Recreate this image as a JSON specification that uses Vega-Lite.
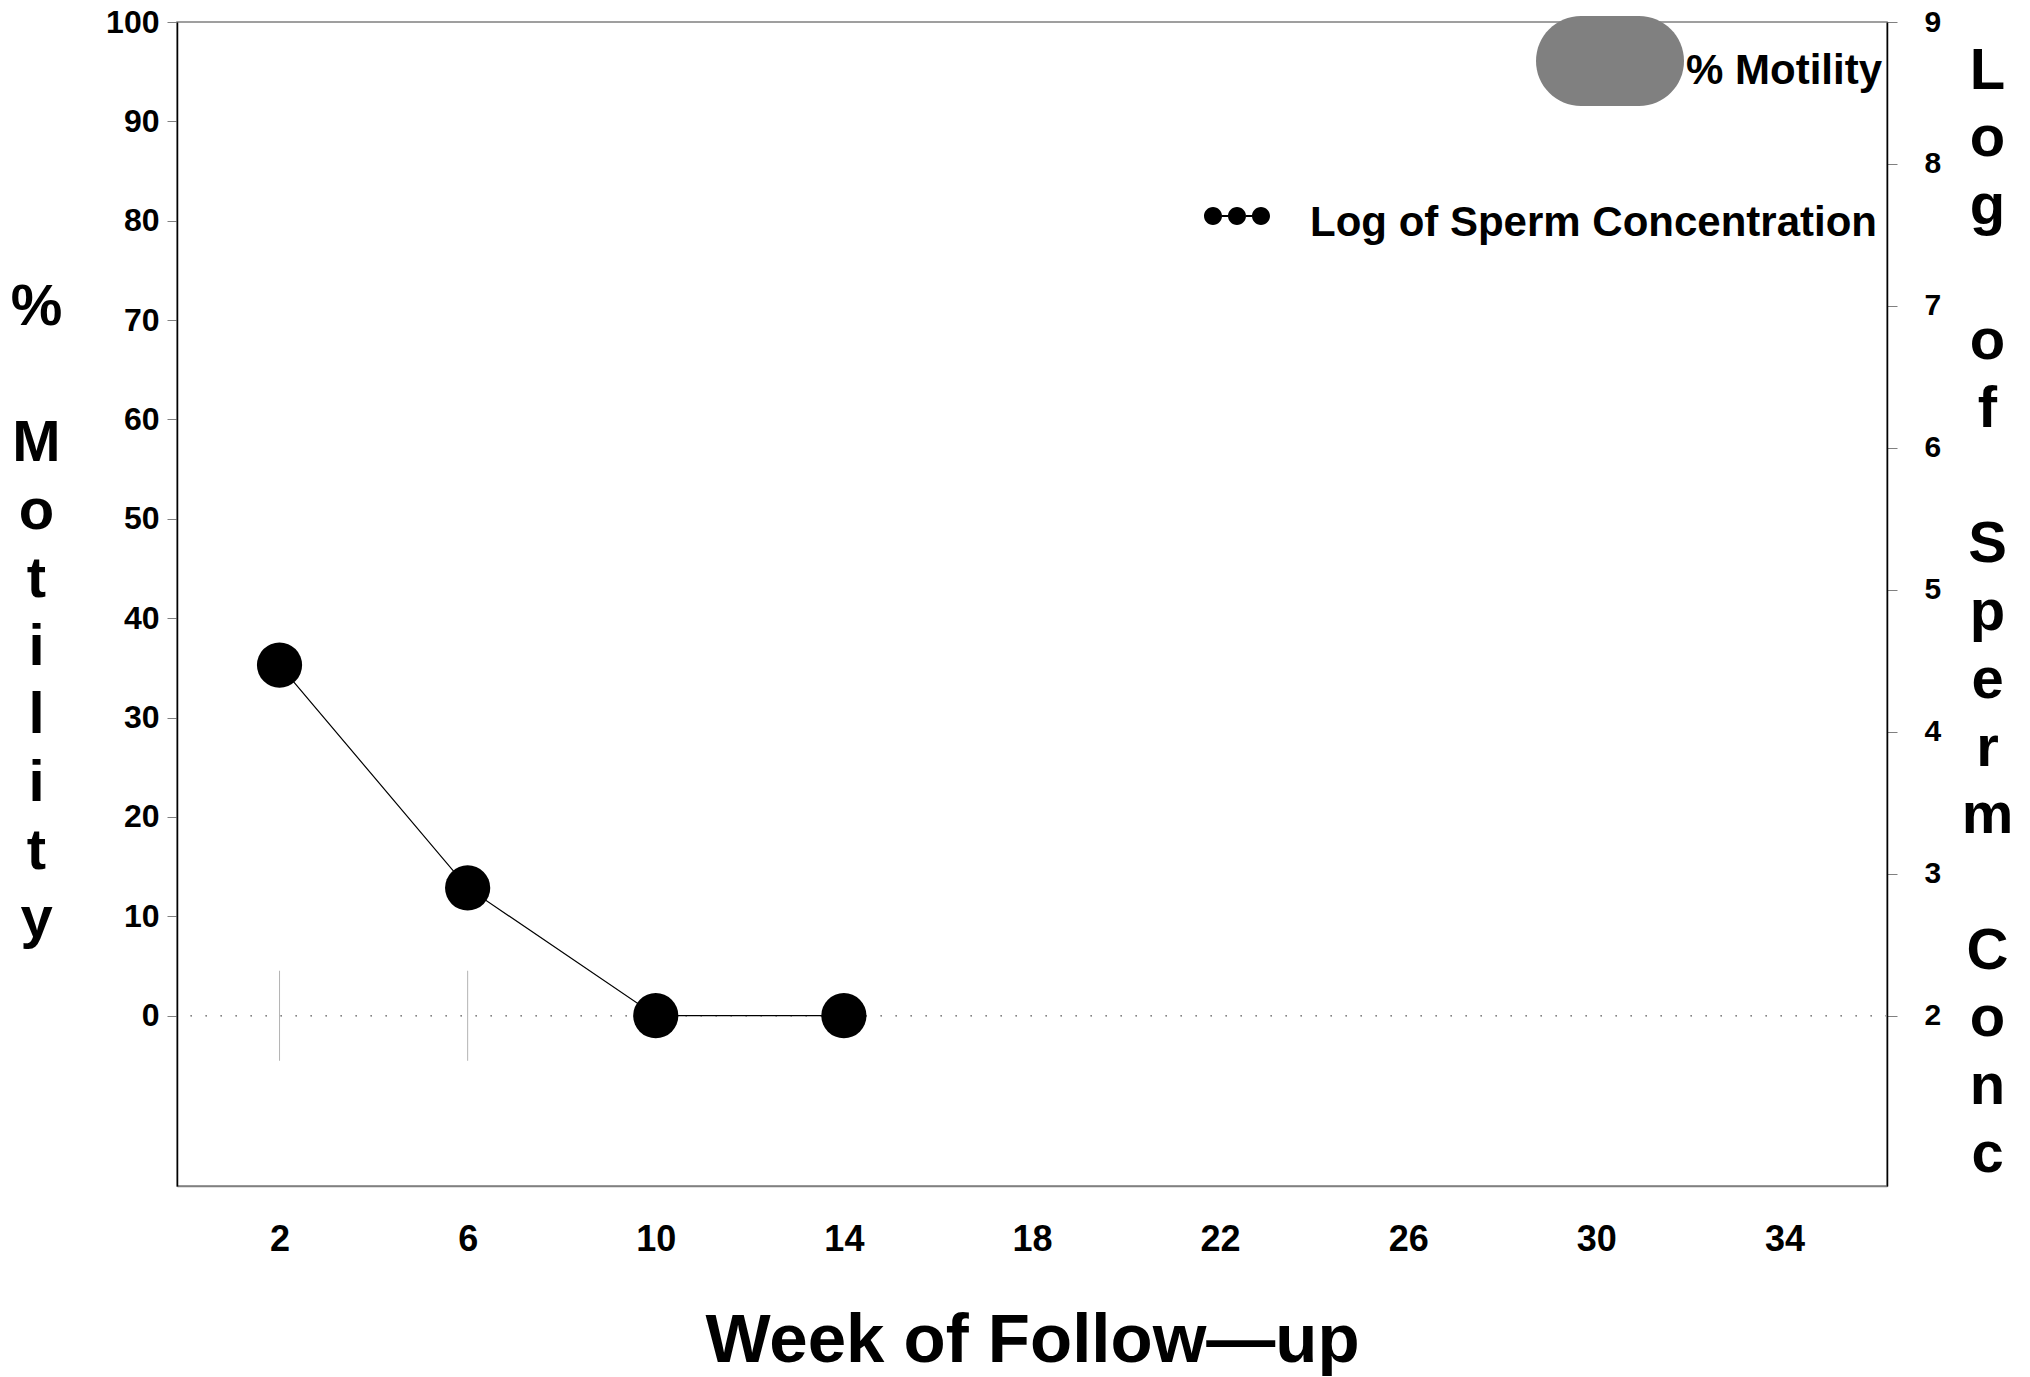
{
  "$schema": "https://vega.github.io/schema/vega-lite/v6.json",
  "width": 1710,
  "height": 1164,
  "autosize": "none",
  "padding": {"left": 177, "top": 22, "right": 143, "bottom": 191},
  "background": "white",
  "config": {
    "font": "Liberation Sans",
    "view": {"stroke": "#808080", "strokeWidth": 1.5},
    "axis": {"grid": false, "labelFontWeight": "bold", "titleFontWeight": "bold", "labelColor": "black", "titleColor": "black"},
    "legend": {"labelFont": "Liberation Sans"}
  },
  "layer": [
    {
      "data": {"values": [
        {"week": 2, "motility": 0, "series": "% Motility"},
        {"week": 6, "motility": 0, "series": "% Motility"}
      ]},
      "encoding": {
        "color": {"field": "series", "type": "nominal",
          "scale": {"domain": ["% Motility"], "range": ["#808080"]},
          "legend": {"orient": "none", "legendX": 1359, "legendY": -35, "title": null, "padding": 0,
            "symbolType": "M-0.392,-0.608L0.392,-0.608A0.608,0.608,0,0,1,0.392,0.608L-0.392,0.608A0.608,0.608,0,0,1,-0.392,-0.608Z",
            "symbolSize": 21904, "symbolFillColor": "#808080", "symbolStrokeWidth": 0, "symbolOpacity": 1,
            "labelFontSize": 42, "labelFontWeight": "bold", "labelColor": "black", "labelOffset": 2, "labelLimit": 0,
            "encode": {
              "labels": {"update": {"dy": {"value": 10}}},
              "symbols": {"update": {"fill": {"value": "#808080"}, "stroke": {"value": "transparent"}, "opacity": {"value": 1},
              "shape": {"value": "M-0.392,-0.608L0.392,-0.608A0.608,0.608,0,0,1,0.392,0.608L-0.392,0.608A0.608,0.608,0,0,1,-0.392,-0.608Z"},
              "size": {"value": 21904}}}}}}
      },
      "layer": [
        {
          "mark": {"type": "rule", "strokeWidth": 1.5, "strokeDash": [1.5, 13.5], "opacity": 0.8},
          "encoding": {
            "y": {"datum": 0, "type": "quantitative",
              "scale": {"domain": [-17.14, 100], "nice": false, "zero": false},
              "axis": {"orient": "left", "values": [0,10,20,30,40,50,60,70,80,90,100], "tickSize": 10, "tickColor": "#808080", "labelFontSize": 32, "labelPadding": 8, "domainColor": "black", "domainWidth": 1.5,
                "title": ["%", "\u200b", "M", "o", "t", "i", "l", "i", "t", "y"], "titleAngle": 0, "titleAlign": "center", "titleBaseline": "top", "titleFontSize": 58, "titleLineHeight": 68, "titleX": -141, "titleY": 256}}
          }
        },
        {
          "mark": {"type": "tick", "orient": "vertical", "size": 90, "thickness": 1, "opacity": 0.6},
          "encoding": {
            "x": {"field": "week", "type": "quantitative",
              "scale": {"domain": [-0.18, 36.18], "nice": false, "zero": false},
              "axis": {"values": [2,6,10,14,18,22,26,30,34], "ticks": false, "tickSize": 0, "labelFontSize": 36, "labelPadding": 36, "domainColor": "#808080", "domainWidth": 1.5,
                "title": "Week of Follow\u2014up", "titleFontSize": 69, "titleX": 855, "titleY": 175, "titleBaseline": "alphabetic", "titleAlign": "center"}},
            "y": {"field": "motility", "type": "quantitative",
              "scale": {"domain": [-17.14, 100], "nice": false, "zero": false},
              "axis": {"orient": "left", "values": [0,10,20,30,40,50,60,70,80,90,100], "tickSize": 10, "tickColor": "#808080", "labelFontSize": 32, "labelPadding": 8, "domainColor": "black", "domainWidth": 1.5,
                "title": ["%", "\u200b", "M", "o", "t", "i", "l", "i", "t", "y"], "titleAngle": 0, "titleAlign": "center", "titleBaseline": "top", "titleFontSize": 58, "titleLineHeight": 68, "titleX": -141, "titleY": 256}}
          }
        }
      ]
    },
    {
      "data": {"values": [
        {"week": 2, "logconc": 4.47, "series": "Log of Sperm Concentration"},
        {"week": 6, "logconc": 2.9, "series": "Log of Sperm Concentration"},
        {"week": 10, "logconc": 2.0, "series": "Log of Sperm Concentration"},
        {"week": 14, "logconc": 2.0, "series": "Log of Sperm Concentration"}
      ]},
      "encoding": {
        "x": {"field": "week", "type": "quantitative",
          "scale": {"domain": [-0.18, 36.18], "nice": false, "zero": false},
          "axis": {"values": [2,6,10,14,18,22,26,30,34], "ticks": false, "tickSize": 0, "labelFontSize": 36, "labelPadding": 36, "domainColor": "#808080", "domainWidth": 1.5,
            "title": "Week of Follow\u2014up", "titleFontSize": 69, "titleX": 855, "titleY": 175, "titleBaseline": "alphabetic", "titleAlign": "center"}},
        "y": {"field": "logconc", "type": "quantitative",
          "scale": {"domain": [0.8, 9], "nice": false, "zero": false},
          "axis": {"orient": "right", "values": [2,3,4,5,6,7,8,9], "tickSize": 10, "tickColor": "#808080", "labelFontSize": 30, "labelPadding": 27, "domainColor": "black", "domainWidth": 1.5,
            "title": ["L", "o", "g", "\u200b", "o", "f", "\u200b", "S", "p", "e", "r", "m", "\u200b", "C", "o", "n", "c"], "titleAngle": 0, "titleAlign": "center", "titleBaseline": "top", "titleFontSize": 58, "titleLineHeight": 67.7, "titleX": 100, "titleY": 20}},
        "color": {"field": "series", "type": "nominal",
          "scale": {"domain": ["Log of Sperm Concentration"], "range": ["black"]},
          "legend": {"orient": "none", "legendX": 1027, "legendY": 161, "title": null, "padding": 0,
            "symbolType": "M-0.454,-0.03L-0.273,-0.03L-0.273,0.03L-0.454,0.03Z M0.273,-0.03L0.454,-0.03L0.454,0.03L0.273,0.03Z M-1,0A0.273,0.273,0,1,0,-0.454,0A0.273,0.273,0,1,0,-1,0Z M-0.273,0A0.273,0.273,0,1,0,0.273,0A0.273,0.273,0,1,0,-0.273,0Z M0.454,0A0.273,0.273,0,1,0,1,0A0.273,0.273,0,1,0,0.454,0Z",
            "symbolSize": 4356, "symbolFillColor": "black", "symbolStrokeWidth": 0,
            "labelFontSize": 42, "labelFontWeight": "bold", "labelColor": "black", "labelOffset": 40, "labelLimit": 0,
            "encode": {
              "labels": {"update": {"dy": {"value": 7}}},
              "symbols": {"update": {"fill": {"value": "black"}, "stroke": {"value": "transparent"}, "strokeWidth": {"value": 0}, "opacity": {"value": 1},
              "shape": {"value": "M-0.454,-0.03L-0.273,-0.03L-0.273,0.03L-0.454,0.03Z M0.273,-0.03L0.454,-0.03L0.454,0.03L0.273,0.03Z M-1,0A0.273,0.273,0,1,0,-0.454,0A0.273,0.273,0,1,0,-1,0Z M-0.273,0A0.273,0.273,0,1,0,0.273,0A0.273,0.273,0,1,0,-0.273,0Z M0.454,0A0.273,0.273,0,1,0,1,0A0.273,0.273,0,1,0,0.454,0Z"},
              "size": {"value": 4356}}}}}}
      },
      "layer": [
        {"mark": {"type": "line", "strokeWidth": 1.2}},
        {"mark": {"type": "point", "filled": true, "size": 2043, "opacity": 1}}
      ]
    }
  ],
  "resolve": {"scale": {"y": "independent", "color": "independent"}, "legend": {"color": "independent"}}
}
